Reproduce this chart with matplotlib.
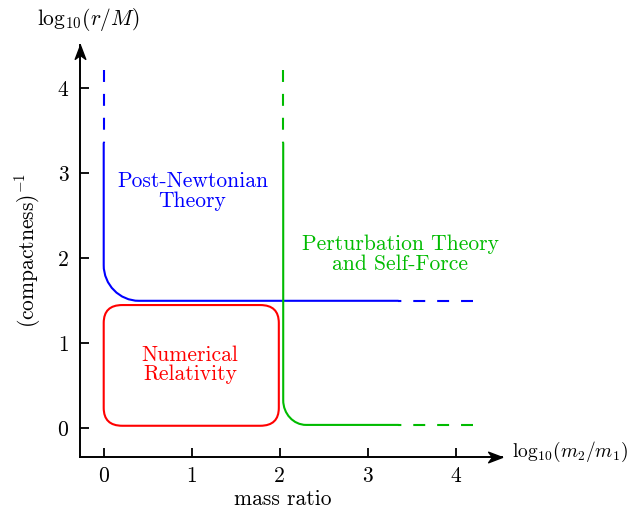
import matplotlib.pyplot as plt
from matplotlib.path import Path
from matplotlib.patches import PathPatch, FancyBboxPatch
from matplotlib.transforms import Affine2D

plt.rcParams['font.family'] = ['cmr10', 'DejaVu Sans']
plt.rcParams['mathtext.fontset'] = 'cm'
plt.rcParams['axes.unicode_minus'] = False
plt.rcParams['axes.formatter.use_mathtext'] = True
plt.rcParams['lines.scale_dashes'] = False

# x = log10(m2/m1), y = log10(r/M)
xticks = [0, 1, 2, 3, 4]
yticks = [0, 1, 2, 3, 4]

# post-Newtonian boundary: vertical line, bend, horizontal line
pn_x = [0.0, 0.0, 0.40, 3.35, 4.20]    # vertical, bend start, bend end, solid end, dashed end
pn_y = [4.21, 3.36, 1.92, 1.50]        # dashed top, solid top, bend start, level

# perturbation theory / self-force boundary
sf_x = [2.04, 2.04, 2.30, 3.35, 4.20]
sf_y = [4.21, 3.36, 0.33, 0.04]

# numerical relativity box
nr_x = [0.0, 1.99]
nr_y = [0.03, 1.45]
nr_round = 0.21

blue = '#0000ff'
green = '#00bb00'
red = '#ff0000'
dash = (0, (8.6, 8.6))
fs = 15.5


def boundary(ax, xs, ys, color):
    k = 0.55
    vx, bx, sx, dx = xs[0], xs[2], xs[3], xs[4]
    top, stop, by, lev = ys
    verts = [(vx, stop), (vx, by), (vx, by - k * (by - lev)),
             (bx - k * (bx - vx), lev), (bx, lev), (sx, lev)]
    codes = [Path.MOVETO, Path.LINETO, Path.CURVE4, Path.CURVE4,
             Path.CURVE4, Path.LINETO]
    ax.add_patch(PathPatch(Path(verts, codes), fill=False, ec=color,
                           lw=1.5, capstyle='butt'))
    ax.plot([vx, vx], [top, stop], color=color, lw=1.5, ls=dash,
            dash_capstyle='butt')
    ax.plot([dx, sx], [lev, lev], color=color, lw=1.5, ls=dash,
            dash_capstyle='butt')


fig = plt.figure(figsize=(6.33, 5.15), dpi=100)
ax = fig.add_axes([0.1256, 0.1132, 0.6670, 0.7994])
ax.set_xlim(-0.275, 4.523)
ax.set_ylim(-0.334, 4.509)

boundary(ax, pn_x, pn_y, blue)
boundary(ax, sf_x, sf_y, green)

r = nr_round
ax.add_patch(FancyBboxPatch((nr_x[0] + r, nr_y[0] + r),
                            nr_x[1] - nr_x[0] - 2 * r, nr_y[1] - nr_y[0] - 2 * r,
                            boxstyle=f'round,pad={r},rounding_size={r}',
                            fill=False, ec=red, lw=1.5))

ax.text(1.01, 2.79, 'Post-Newtonian\nTheory', color=blue, fontsize=fs,
        ha='center', va='center', linespacing=1.0)
ax.text(3.37, 2.05, 'Perturbation Theory\nand Self-Force', color=green,
        fontsize=fs, ha='center', va='center', linespacing=1.0)
ax.text(0.98, 0.75, 'Numerical\nRelativity', color=red, fontsize=fs,
        ha='center', va='center', linespacing=1.0)

for s in ['top', 'right']:
    ax.spines[s].set_visible(False)
for s in ['left', 'bottom']:
    ax.spines[s].set_linewidth(1.4)

ax.set_xticks(xticks)
ax.set_yticks(yticks)
ax.set_xticklabels([str(t) for t in xticks])
ax.set_yticklabels([str(t) for t in yticks])
ax.tick_params(direction='in', length=6.5, width=1.3, labelsize=fs)
ax.tick_params(axis='x', pad=7)
ax.tick_params(axis='y', pad=8)

# arrow heads on the axes
head = Path([(0, 0), (-1, 0.38), (-0.72, 0), (-1, -0.38), (0, 0)],
            [Path.MOVETO, Path.LINETO, Path.LINETO, Path.LINETO, Path.CLOSEPOLY])
ax.plot(1, 0, marker=head, ms=20, color='k', transform=ax.transAxes,
        clip_on=False)
ax.plot(0, 1, marker=head.transformed(Affine2D().rotate_deg(90)),
        ms=20, color='k', transform=ax.transAxes, clip_on=False)

ax.text(1.024, 0.012, r'$\mathrm{log}_{10}(m_2/m_1)$', transform=ax.transAxes,
        fontsize=14, ha='left', va='center')
ax.text(0.02, 1.063, r'$\mathrm{log}_{10}(r/M)$', transform=ax.transAxes,
        fontsize=fs, ha='center', va='center')
ax.text(0.481, -0.103, 'mass ratio', transform=ax.transAxes,
        fontsize=fs, ha='center', va='center')
ax.text(-0.122, 0.5, '(compactness)$^{-1}$', transform=ax.transAxes,
        fontsize=fs, ha='center', va='center', rotation=90)

fig.savefig('out.png', dpi=100)
